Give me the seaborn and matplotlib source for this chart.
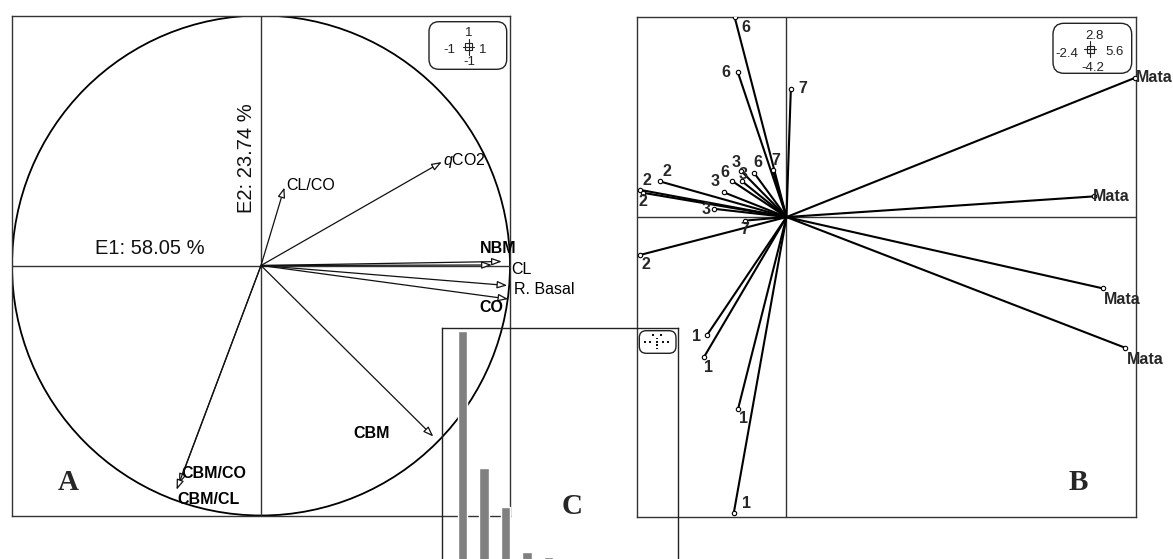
import matplotlib
matplotlib.use("Agg")
import matplotlib.pyplot as plt
from matplotlib.patches import FancyBboxPatch, Circle, Rectangle
import pandas as pd
import seaborn as sns

# ---- data -------------------------------------------------------------
# Correlation circle: loadings of the soil variables on E1 / E2
var_names = ["NBM", "CL", "R. Basal", "CO", "CBM", "CBM/CO", "CBM/CL",
             r"$\mathit{q}$CO2", "CL/CO"]
var_e1 = [0.967, 0.927, 0.989, 0.993, 0.692, -0.329, -0.339, 0.726, 0.094]
var_e2 = [0.016, 0.002, -0.080, -0.134, -0.684, -0.873, -0.897, 0.414, 0.312]
axis_labels = ["E1: 58.05 %", "E2: 23.74 %"]

# Sample scores on E1 / E2
site_names = ["6", "6", "7", "7", "6", "3", "3", "6", "3", "2", "2", "2",
              "3", "7", "2", "1", "1", "1", "1", "Mata", "Mata", "Mata", "Mata"]
site_e1 = [-0.83, -0.78, 0.07, -0.22, -0.52, -0.73, -0.71, -0.88, -1.00,
           -2.03, -2.34, -2.30, -1.165, -0.67, -2.34, -1.27, -1.32, -0.776,
           -0.845, 5.58, 4.93, 5.07, 5.42]
site_e2 = [2.80, 2.03, 1.80, 0.66, 0.62, 0.65, 0.50, 0.51, 0.345,
           0.50, 0.38, 0.34, 0.116, -0.05, -0.53, -1.65, -1.96, -2.69,
           -4.15, 1.95, 0.29, -1.00, -1.83]
score_range = {"xmin": -2.4, "xmax": 5.6, "ymin": -4.2, "ymax": 2.8}

# Eigenvalues, % of total inertia
eig_rank = ["1", "2", "3", "4", "5"]
eig_pct = [58.05, 23.74, 14.1, 2.7, 1.4]

# ---- label placement (offsets in pixels, + = right / up) ------------
var_label_style = {
    "NBM": (-3.7, 12.7, "center", "bold"),
    "CL": (19.7, -4.7, "left", "normal"),
    "R. Basal": (7.0, -4.3, "left", "normal"),
    "CO": (-16.6, -9.0, "center", "bold"),
    "CBM": (-61.6, 2.7, "center", "bold"),
    "CBM/CO": (2.7, 10.7, "left", "bold"),
    "CBM/CL": (0.8, -10.0, "left", "bold"),
    r"$\mathit{q}$CO2": (1.7, 1.7, "left", "normal"),
    "CL/CO": (1.7, 2.0, "left", "normal"),
}
site_label_offsets = [
    (10.7, -10, "center"), (-12.3, 0, "center"), (12, 0, "center"),
    (2.7, 9, "center"), (4, 10, "center"), (-5, 8.3, "center"),
    (1, 7.3, "center"), (-6.3, 8, "center"), (-9, 10.7, "center"),
    (7, 9.7, "center"), (6.3, 9, "center"), (0, -8.7, "center"),
    (-7.3, -1, "center"), (0, -9, "center"), (5, -10, "center"),
    (-11, -1.7, "center"), (4.7, -11, "center"), (5, -9.3, "center"),
    (12.7, 10, "center"), (1, 0, "left"), (-1, 0, "left"),
    (19, -10.7, "center"), (20.8, -12.3, "center"),
]

# ---- figure -----------------------------------------------------------
sns.set_theme(style="white")
plt.rcParams["font.family"] = ["Liberation Sans", "DejaVu Sans"]
plt.rcParams["mathtext.fontset"] = "custom"
plt.rcParams["mathtext.it"] = "Liberation Sans:italic"
plt.rcParams["mathtext.rm"] = "Liberation Sans"

W, H = 1173, 559
fig = plt.figure(figsize=(W / 100, H / 100), dpi=100)
fig.patch.set_facecolor("white")


def px_axes(x0, y0, x1, y1):
    ax = fig.add_axes([x0 / W, 1 - y1 / H, (x1 - x0) / W, (y1 - y0) / H])
    ax.set_xticks([])
    ax.set_yticks([])
    ax.set_xlabel("")
    ax.set_ylabel("")
    for s in ax.spines.values():
        s.set_visible(True)
        s.set_color("#333333")
        s.set_linewidth(1.0)
    return ax


frame_col = "#333333"

# ---- panel A: correlation circle -------------------------------------
axa = px_axes(12, 15.5, 510, 515.5)
axa.set_xlim(-1, 1)
axa.set_ylim(-1, 1)
axa.add_patch(Circle((0, 0), 1, fill=False, ec="black", lw=1.3))
axa.axhline(0, color=frame_col, lw=1.0)
axa.axvline(0, color=frame_col, lw=1.0)
for name, x, y in zip(var_names, var_e1, var_e2):
    axa.annotate("", xy=(x, y), xytext=(0, 0),
                 arrowprops=dict(arrowstyle="-|>,head_length=0.6,head_width=0.22",
                                 mutation_scale=10, fc="white", ec="#111111",
                                 lw=0.9, shrinkA=0, shrinkB=0))
    dx, dy, ha, wt = var_label_style[name]
    axa.annotate(name, xy=(x, y), xytext=(dx, dy), textcoords="offset pixels",
                 ha=ha, va="center", fontsize=11.5, fontweight=wt, color="black")
axa.text(-0.446, 0.07, axis_labels[0], ha="center", va="center",
         fontsize=14.5, color="#111111")
axa.text(-0.057, 0.429, axis_labels[1], ha="center", va="center",
         fontsize=14.5, rotation=90, color="#111111")

# ---- panel B: sample scores ------------------------------------------
axb = px_axes(636.7, 17.3, 1136, 516.7)
axb.set_xlim(score_range["xmin"], score_range["xmax"])
axb.set_ylim(score_range["ymin"], score_range["ymax"])
axb.axhline(0, color=frame_col, lw=1.0)
axb.axvline(0, color=frame_col, lw=1.0)

rows = []
for i, (x, y) in enumerate(zip(site_e1, site_e2)):
    rows.append({"seg": i, "x": 0.0, "y": 0.0})
    rows.append({"seg": i, "x": x, "y": y})
seg_df = pd.DataFrame(rows)
sns.lineplot(data=seg_df, x="x", y="y", units="seg", estimator=None,
             sort=False, color="black", lw=1.5, ax=axb, legend=False)
sns.scatterplot(x=site_e1, y=site_e2, marker="o", s=10, color="white",
                edgecolor="black", linewidth=0.8, ax=axb, zorder=3)
for name, x, y, (dx, dy, ha) in zip(site_names, site_e1, site_e2,
                                    site_label_offsets):
    axb.annotate(name, xy=(x, y), xytext=(dx, dy), textcoords="offset pixels",
                 ha=ha, va="center", fontsize=11.5, fontweight="bold",
                 annotation_clip=False)
axb.set_xlabel("")
axb.set_ylabel("")
axb.set_xticks([])
axb.set_yticks([])

# ---- panel C: eigenvalue bars ----------------------------------------
axc = px_axes(441.7, 327.7, 678.3, 563)
axc.patch.set_alpha(0)
sns.barplot(x=eig_rank, y=eig_pct, color="#808080", saturation=1,
            width=0.44, ax=axc)
axc.set_xlim(-0.967, 10.04)
axc.set_ylim(0, 58.87)
axc.set_xticks([])
axc.set_yticks([])
axc.set_xlabel("")
axc.set_ylabel("")
for s in axc.spines.values():
    s.set_color("#222222")

# ---- scale boxes and panel letters (pixel overlay) -------------------
deco = fig.add_axes([0, 0, 1, 1])
deco.set_xlim(0, W)
deco.set_ylim(H, 0)
deco.axis("off")
deco.patch.set_alpha(0)


def scale_box(x0, y0, x1, y1, r):
    deco.add_patch(FancyBboxPatch((x0 + r, y0 + r), (x1 - x0) - 2 * r,
                                  (y1 - y0) - 2 * r,
                                  boxstyle=f"round,pad={r},rounding_size={r}",
                                  fc="white", ec="#222222", lw=1.0))


def cross(cx, cy, hw, hh, sq):
    deco.plot([cx - hw, cx + hw], [cy, cy], color="#222222", lw=0.8)
    deco.plot([cx, cx], [cy - hh, cy + hh], color="#222222", lw=0.8)
    deco.add_patch(Rectangle((cx - sq, cy - sq), 2 * sq, 2 * sq, fill=False,
                             ec="#222222", lw=0.8))


# panel A scale box
scale_box(429, 21.7, 506.7, 69.3, 10)
cross(468.5, 46.5, 5.5, 8, 3.5)
tick_font = dict(ha="center", va="center", fontsize=9.5, color="#222222")
deco.text(468.3, 33.3, "1", **tick_font)
deco.text(449, 50, "-1", **tick_font)
deco.text(482.5, 50, "1", **tick_font)
deco.text(469, 62.3, "-1", **tick_font)

# panel B scale box
scale_box(1053, 23.3, 1131.7, 73.3, 11)
cross(1090, 49.3, 6, 8, 3.5)
deco.text(1094, 36, f"{score_range['ymax']:.1f}", **tick_font)
deco.text(1066.7, 54, f"{score_range['xmin']:.1f}", **tick_font)
deco.text(1115, 52.3, f"{score_range['xmax']:.1f}", **tick_font)
deco.text(1092.7, 67.7, f"{score_range['ymin']:.1f}", **tick_font)

# panel C scale box with dotted cross
scale_box(639.3, 330.7, 676, 353.3, 7)
for (zx, zy) in [(653, 335), (661, 335), (645, 341.7), (650, 341.7),
                 (657, 341.7), (663, 341.7), (668, 341.7), (657, 338.3),
                 (657, 345), (657, 348.3)]:
    deco.add_patch(Rectangle((zx - 0.8, zy - 0.8), 1.6, 1.6, fc="#111111",
                             ec="none"))

letter_font = dict(ha="center", va="center", fontsize=21, fontweight="bold",
                   family=["Liberation Serif", "DejaVu Serif"])
deco.text(68, 483, "A", **letter_font)
deco.text(1078, 482, "B", **letter_font)
deco.text(571.7, 507, "C", **letter_font)

fig.savefig("out.png", dpi=100, facecolor="white")
